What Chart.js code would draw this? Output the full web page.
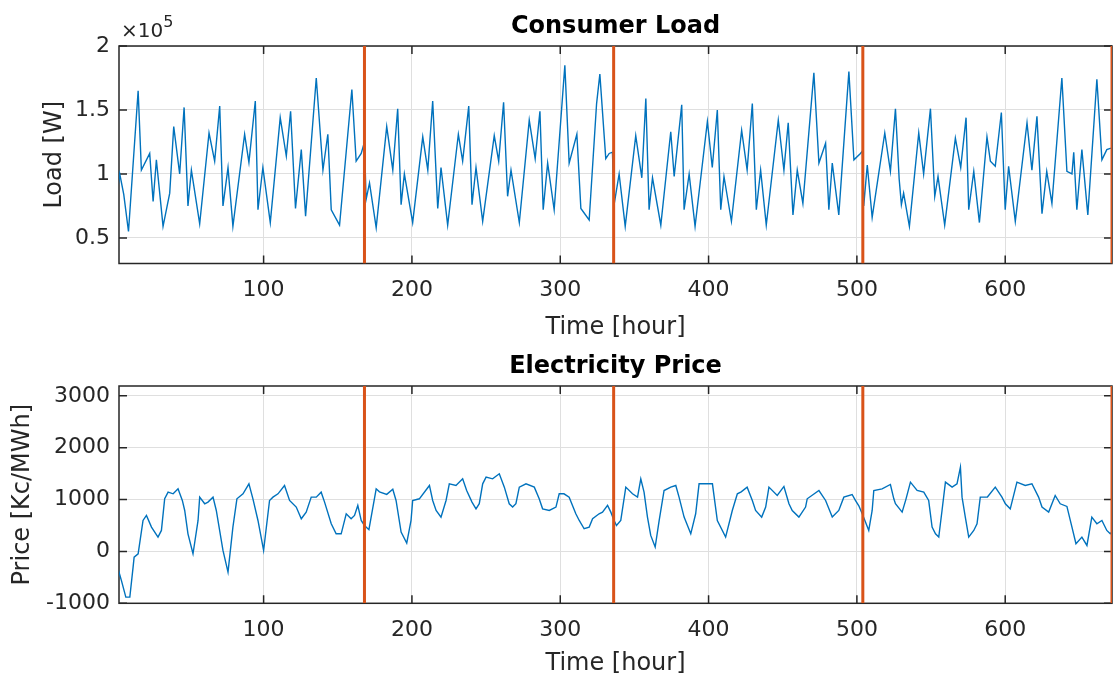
<!DOCTYPE html>
<html>
<head>
<meta charset="utf-8">
<script src="https://cdn.jsdelivr.net/npm/chart.js@4.4.1/dist/chart.umd.min.js"></script>
<style>
  html, body { margin: 0; padding: 0; background: #fff; }
  #wrap { position: relative; width: 1113px; height: 682px; }
  canvas { position: absolute; left: 0; }
  #loadChart { top: 0; }
  #priceChart { top: 345px; }
</style>
</head>
<body>
<div id="wrap">
  <canvas id="loadChart" width="1113" height="345"></canvas>
  <canvas id="priceChart" width="1113" height="337"></canvas>
</div>
<script>
// hourly readings, [hour, load in 1e5 W]
const loadSeries = [
  [1.2,0.84],[3.0,1.0],[5.7,0.84],[8.9,0.55],[15.4,1.65],[17.6,1.03],[23.2,1.16],[25.5,0.785],[27.7,1.11],[32.2,0.59],
  [36.7,0.85],[39.4,1.37],[43.4,1.0],[46.4,1.52],[49.0,0.75],[51.3,1.03],[56.9,0.61],[63.2,1.32],[67.0,1.10],[70.4,1.53],
  [72.6,0.75],[76.0,1.05],[79.3,0.59],[87.2,1.31],[90.1,1.09],[94.4,1.57],[96.2,0.72],[99.5,1.05],[104.5,0.62],[111.2,1.44],
  [115.3,1.14],[118.2,1.49],[121.5,0.73],[125.4,1.19],[128.3,0.67],[135.5,1.75],[140.0,1.03],[143.3,1.31],[145.6,0.72],[151.2,0.60],
  [159.5,1.66],[162.4,1.10],[165.8,1.16],[168.0,1.25],
  [169.1,0.80],[171.4,0.93],[175.9,0.58],[183.0,1.37],[187.1,1.03],[190.4,1.51],[192.7,0.76],[194.9,1.0],[200.5,0.62],[207.3,1.29],
  [210.7,1.03],[214.0,1.57],[217.4,0.73],[219.6,1.05],[224.1,0.60],[231.3,1.31],[234.2,1.10],[238.3,1.53],[240.5,0.76],[243.2,1.05],
  [247.7,0.63],[255.5,1.30],[258.5,1.10],[261.8,1.56],[264.5,0.825],[266.8,1.03],[272.4,0.62],[279.1,1.42],[283.1,1.12],[286.3,1.49],
  [288.5,0.72],[291.5,1.085],[295.9,0.72],[303.1,1.85],[306.0,1.085],[311.2,1.31],[313.9,0.73],[319.5,0.64],[324.5,1.55],[326.7,1.78],
  [330.7,1.12],[333.0,1.16],[335.2,1.17],
  [336.3,0.76],[339.7,1.0],[343.8,0.59],[350.9,1.30],[355.0,0.97],[357.7,1.59],[359.9,0.72],[362.2,0.97],[367.8,0.60],[374.5,1.33],
  [376.8,0.98],[381.9,1.54],[383.5,0.72],[386.9,1.0],[390.9,0.59],[399.2,1.41],[402.5,1.05],[405.9,1.50],[408.2,0.72],[410.4,0.98],
  [415.4,0.63],[422.3,1.34],[426.0,1.03],[429.5,1.55],[432.2,0.72],[435.1,1.03],[438.9,0.60],[447.0,1.42],[450.8,1.03],[453.7,1.40],
  [456.9,0.68],[459.8,1.03],[463.6,0.77],[471.0,1.79],[474.4,1.085],[478.9,1.24],[481.1,0.72],[483.4,1.085],[487.8,0.68],[494.6,1.80],
  [498.0,1.11],[502.4,1.16],[503.8,1.18],
  [504.6,0.75],[507.0,1.07],[510.3,0.66],[518.8,1.32],[522.6,1.02],[526.0,1.51],[528.5,0.96],[530.0,0.76],[531.5,0.85],[535.4,0.59],
  [541.7,1.32],[545.0,1.0],[549.6,1.51],[552.5,0.825],[554.7,0.98],[559.2,0.60],[566.4,1.28],[570.0,1.05],[573.6,1.44],[575.4,0.72],
  [578.8,1.02],[582.6,0.62],[587.7,1.29],[590.0,1.10],[593.3,1.06],[597.4,1.48],[600.0,0.72],[602.3,1.06],[606.8,0.63],[614.7,1.40],
  [618.0,1.03],[621.4,1.45],[624.8,0.69],[628.0,1.02],[631.5,0.77],[638.2,1.75],[641.6,1.02],[645.0,1.0],[646.2,1.17],[648.3,0.72],
  [651.7,1.19],[655.7,0.68],[661.8,1.74],[665.2,1.11],[668.5,1.19],[670.8,1.2],[672.0,1.2]
];

// [hour, price in Kc/MWh]
const priceSeries = [
  [1.2,-270],[4.1,-559],[7.1,-880],[9.8,-880],[12.0,-302],[12.7,-110],[15.4,-45],[18.7,597],[21.0,694],[24.4,469],
  [28.8,277],[31.1,405],[33.3,1015],[35.6,1143],[39.0,1111],[42.3,1207],[45.2,983],[46.8,790],[49.0,340],[52.4,-45],
  [55.8,597],[56.9,1047],[60.3,919],[62.5,951],[65.9,1047],[68.1,790],[72.6,19],[76.0,-398],[79.3,469],[82.0,1015],
  [86.1,1111],[90.1,1304],[92.8,1015],[96.2,597],[100.0,19],[104.0,983],[106.3,1047],[109.7,1111],[114.1,1272],[117.5,983],
  [122.0,855],[125.4,630],[128.7,758],[132.1,1047],[135.5,1047],[138.8,1143],[141.1,951],[145.6,533],[148.9,340],[152.3,340],
  [155.7,726],[159.0,630],[161.3,694],[163.5,887],[165.8,597],[168.0,501],[171.0,420],[175.9,1207],
  [178.1,1150],[183.0,1100],[187.1,1200],[189.3,983],[192.7,373],[196.5,160],[199.4,597],[200.5,983],[205.0,1015],[211.8,1272],
  [214.0,983],[216.3,790],[219.6,662],[223.0,983],[225.2,1304],[229.7,1272],[234.2,1400],[236.9,1175],[240.5,951],[243.2,822],
  [245.4,920],[247.7,1304],[250.0,1432],[254.4,1400],[258.9,1497],[262.3,1240],[265.6,919],[267.9,855],[270.1,920],[272.4,1240],
  [276.9,1304],[282.5,1240],[285.8,1015],[288.1,822],[292.6,790],[297.1,855],[299.3,1111],[302.5,1111],[306.0,1047],[310.5,726],
  [312.8,597],[316.1,437],[319.5,469],[321.8,630],[326.2,726],[328.5,758],[331.9,887],[334.1,758],[336.3,597],
  [337.9,501],[340.8,597],[344.2,1240],[348.7,1111],[352.1,1047],[354.3,1400],[356.5,1143],[358.8,662],[361.0,309],[364.0,84],
  [366.7,597],[370.0,1175],[374.5,1240],[377.9,1272],[380.1,1047],[383.5,662],[388.0,340],[391.3,726],[393.6,1304],[397.0,1304],
  [402.6,1304],[405.9,597],[411.5,277],[416.0,790],[419.4,1111],[422.0,1150],[426.0,1240],[429.5,983],[431.7,790],[435.8,662],
  [438.5,855],[440.7,1240],[446.3,1079],[450.8,1253],[454.2,919],[456.4,790],[460.9,662],[465.4,855],[466.5,1015],[474.4,1175],
  [478.9,983],[483.4,662],[487.8,790],[491.2,1047],[496.8,1098],[499.0,983],[501.3,880],[503.6,726],
  [508.0,405],[510.3,790],[511.4,1175],[517.0,1207],[522.6,1291],[524.9,1015],[526.0,920],[530.5,758],[533.0,1000],[536.1,1336],
  [540.6,1175],[545.1,1143],[548.4,983],[550.7,469],[553.0,340],[555.2,277],[557.4,790],[559.7,1336],[564.2,1240],[567.5,1304],
  [569.8,1625],[570.9,1047],[573.1,662],[575.4,277],[578.8,405],[581.0,533],[583.2,1047],[588.0,1050],[593.3,1240],[597.8,1047],
  [600.1,920],[603.4,822],[607.9,1336],[613.5,1272],[618.0,1304],[622.5,1047],[624.8,855],[629.3,758],[633.7,1079],[637.1,919],
  [641.6,868],[645.0,469],[647.7,148],[651.7,277],[655.1,116],[658.4,662],[661.8,533],[665.2,597],[668.5,405],[670.8,340],[672.0,380]
];

const weekMarks = [168, 336, 504, 672];
const xTicks = [100, 200, 300, 400, 500, 600];
const loadTicks = [0.5, 1, 1.5, 2];
const priceTicks = [-1000, 0, 1000, 2000, 3000];

const BLUE = '#0072BD';
const ORANGE = '#D95319';
const AXIS = '#262626';
const GRID = '#dfdfdf';
const FONT = "'DejaVu Sans', sans-serif";

Chart.defaults.font.family = FONT;
Chart.defaults.color = AXIS;

// box around the plot area plus inward tick marks on all four sides
const boxAxes = {
  id: 'boxAxes',
  beforeDatasetsDraw(chart) {
    const { ctx, chartArea: a, scales: { x, y } } = chart;
    const len = 8;
    ctx.save();
    ctx.strokeStyle = AXIS;
    ctx.lineWidth = 1.5;
    ctx.beginPath();
    x.ticks.forEach(t => {
      const px = x.getPixelForValue(t.value);
      ctx.moveTo(px, a.bottom); ctx.lineTo(px, a.bottom - len);
      ctx.moveTo(px, a.top); ctx.lineTo(px, a.top + len);
    });
    y.ticks.forEach(t => {
      const py = y.getPixelForValue(t.value);
      ctx.moveTo(a.left, py); ctx.lineTo(a.left + len, py);
      ctx.moveTo(a.right, py); ctx.lineTo(a.right - len, py);
    });
    ctx.stroke();
    ctx.strokeRect(a.left, a.top, a.right - a.left, a.bottom - a.top);
    ctx.restore();
  }
};

// "x10^5" multiplier above the load axis
const exponentLabel = {
  id: 'exponentLabel',
  afterDraw(chart) {
    const { ctx, chartArea: a } = chart;
    ctx.save();
    ctx.fillStyle = AXIS;
    ctx.textBaseline = 'alphabetic';
    ctx.font = `20px ${FONT}`;
    ctx.fillText('\u00d710', a.left + 2, 37);
    const w = ctx.measureText('\u00d710').width;
    ctx.font = `16px ${FONT}`;
    ctx.fillText('5', a.left + 2 + w, 27);
    ctx.restore();
  }
};

function markDatasets(yMin, yMax) {
  return weekMarks.map(h => ({
    data: [{ x: h, y: yMin }, { x: h, y: yMax }],
    borderColor: ORANGE,
    borderWidth: 3,
    pointRadius: 0,
    order: 1
  }));
}

function makeChart(id, opts) {
  const seriesSet = {
    data: opts.series.map(p => ({ x: p[0], y: p[1] })),
    borderColor: BLUE,
    borderWidth: 1.4,
    pointRadius: 0,
    tension: 0,
    order: 2
  };
  return new Chart(document.getElementById(id), {
    type: 'line',
    data: { datasets: [seriesSet, ...markDatasets(opts.yMin, opts.yMax)] },
    options: {
      responsive: false,
      animation: false,
      events: [],
      layout: { padding: { left: 0, right: 1, top: 0, bottom: 0 } },
      plugins: {
        legend: { display: false },
        tooltip: { enabled: false },
        title: {
          display: true,
          text: opts.title,
          fullSize: false,
          color: '#000',
          font: { size: 24, weight: 'bold' },
          padding: opts.titlePad
        }
      },
      scales: {
        x: {
          type: 'linear',
          min: 2.5,
          max: 672,
          afterBuildTicks: s => { s.ticks = xTicks.map(v => ({ value: v })); },
          afterFit: s => { s.height = opts.xAxisHeight; },
          ticks: { font: { size: 22 }, padding: 14, maxRotation: 0, autoSkip: false, color: AXIS },
          grid: { color: GRID, drawTicks: false, lineWidth: 1 },
          border: { display: false },
          title: { display: true, text: 'Time [hour]', font: { size: 24 }, color: AXIS, padding: { top: 0, bottom: opts.xTitlePad } }
        },
        y: {
          type: 'linear',
          min: opts.yMin,
          max: opts.yMax,
          afterBuildTicks: s => { s.ticks = opts.yTicks.map(v => ({ value: v })); },
          afterFit: s => { s.width = 119; },
          ticks: { font: { size: 22 }, padding: 9, color: AXIS, callback: v => String(v) },
          grid: { color: GRID, drawTicks: false, lineWidth: 1 },
          border: { display: false },
          title: { display: true, text: opts.yLabel, font: { size: 24 }, color: AXIS, padding: { top: opts.yTitlePad, bottom: 0 } }
        }
      }
    },
    plugins: opts.plugins
  });
}

makeChart('loadChart', {
  series: loadSeries,
  title: 'Consumer Load',
  titlePad: { top: 12.8, bottom: 4.4 },
  yLabel: 'Load [W]',
  yTitlePad: 40.6,
  yMin: 0.3,
  yMax: 2,
  yTicks: loadTicks,
  xAxisHeight: 81.5,
  xTitlePad: 3.1,
  plugins: [boxAxes, exponentLabel]
});

makeChart('priceChart', {
  series: priceSeries,
  title: 'Electricity Price',
  titlePad: { top: 7.3, bottom: 4.9 },
  yLabel: 'Price [Kc/MWh]',
  yTitlePad: 8.6,
  yMin: -1000,
  yMax: 3190,
  yTicks: priceTicks,
  xAxisHeight: 78.7,
  xTitlePad: 3.6,
  plugins: [boxAxes]
});
</script>
</body>
</html>
